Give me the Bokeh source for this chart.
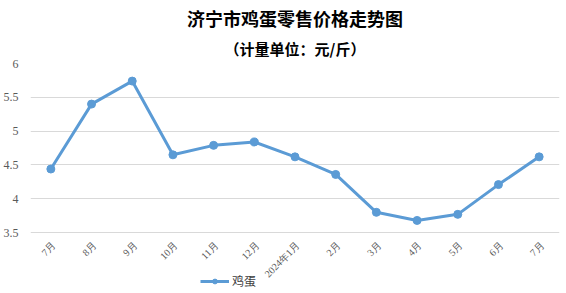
from math import pi
from bokeh.plotting import figure
from bokeh.models import ColumnDataSource, FixedTicker, Title, Legend, LegendItem, Range1d, FactorRange
from bokeh.core.properties import value
from bokeh.embed import file_html
from bokeh.resources import INLINE

categories = ["7月", "8月", "9月", "10月", "11月", "12月", "2024年1月", "2月", "3月", "4月", "5月", "6月", "7月 "]
egg = [4.44, 5.40, 5.74, 4.65, 4.79, 4.84, 4.62, 4.36, 3.80, 3.68, 3.77, 4.21, 4.62]
y_ticks = [3.5, 4, 4.5, 5, 5.5, 6]
y_tick_labels = ["3.5", "4", "4.5", "5", "5.5", "6"]
series_name = "鸡蛋"
title_text = "济宁市鸡蛋零售价格走势图"
subtitle_text = "（计量单位：元/斤）"

src = ColumnDataSource(dict(x=categories, y=egg))
lab_src = ColumnDataSource(dict(x=categories, y=[y_ticks[0]] * len(categories), t=[c.strip() for c in categories]))

# frame extends to the bottom so the legend (drawn in the frame) stays visible
p = figure(frame_width=529, frame_height=230, x_range=FactorRange(*categories), y_range=Range1d(2.6, 6),
           output_backend="svg", toolbar_location=None,
           min_border_left=28, min_border_right=9, min_border_top=63, min_border_bottom=0)

p.title = Title(text=title_text, align="center", text_font="Noto Sans CJK SC",
                text_font_size="18px", text_font_style="bold", text_color="#000000",
                standoff=0, offset=0)
p.add_layout(Title(text=subtitle_text, align="center", text_font="Noto Sans CJK SC",
                   text_font_size="15px", text_font_style="bold", text_color="#000000",
                   standoff=10), "above")

p.outline_line_color = None
p.xgrid.grid_line_color = None
p.ygrid.grid_line_color = "#D9D9D9"
p.ygrid.grid_line_width = 1

p.yaxis.ticker = FixedTicker(ticks=y_ticks)
p.yaxis.major_label_overrides = {t: l for t, l in zip(y_ticks, y_tick_labels)}
p.yaxis.axis_line_color = None
p.yaxis.major_tick_line_color = None
p.yaxis.minor_tick_line_color = None
p.yaxis.major_label_text_font = "Liberation Serif"
p.yaxis.major_label_text_font_size = "12px"
p.yaxis.major_label_text_color = "#595959"
p.yaxis.major_label_standoff = 6

p.xaxis.visible = False

# category labels under the 3.5 baseline, rotated 45 degrees
p.text("x", "y", text="t", source=lab_src, angle=pi / 4, x_offset=3, y_offset=11,
       text_align="right", text_baseline="middle",
       text_font=value("Liberation Serif"), text_font_size="10px", text_color="#595959")

line = p.line("x", "y", source=src, line_color="#5B9BD5", line_width=3)
pts = p.scatter("x", "y", source=src, size=8, fill_color="#5B9BD5", line_color="#5B9BD5")

legend = Legend(items=[LegendItem(label=series_name, renderers=[line, pts])],
                location=(170, 4),
                label_text_font="Noto Sans CJK SC", label_text_font_size="12px",
                label_text_color="#404040", glyph_width=29, glyph_height=12,
                label_height=12,
                border_line_color=None, background_fill_alpha=0, padding=0, margin=0,
                label_standoff=3)
p.add_layout(legend, "center")

open("out.html", "w").write(file_html(p, INLINE))
